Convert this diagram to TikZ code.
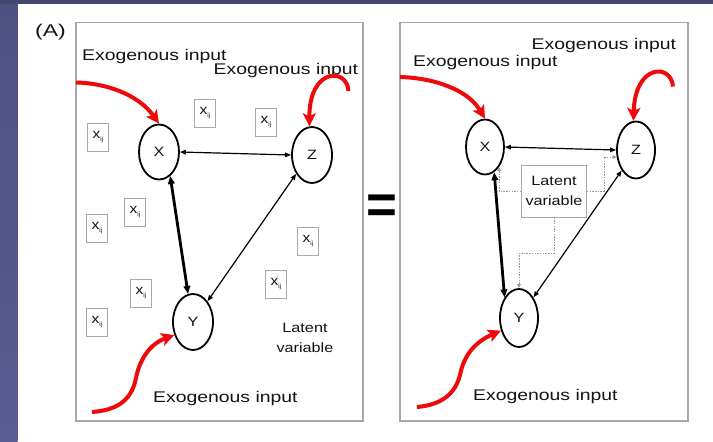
\documentclass[tikz,border=0pt]{standalone}
\usepackage{fontspec}
\usepackage{graphicx}
\setmainfont{Liberation Sans}
\usetikzlibrary{shapes.geometric,arrows.meta}

\definecolor{stripleft}{HTML}{4E5082}
\definecolor{stripleftlow}{HTML}{5A5C93}
\definecolor{striptop}{HTML}{45466F}
\definecolor{frame}{HTML}{A8A8A8}
\definecolor{exored}{HTML}{EE0A0A}
\definecolor{ink}{HTML}{141414}

% horizontally widened text
\newcommand\widetxt[2][1.25]{\scalebox{#1}[1]{#2}}
\newcommand\xij{\widetxt[1.15]{x}\raisebox{-3pt}{\fontsize{6.5}{7}\selectfont ij}}

\tikzset{
  panel/.style={draw=frame, line width=1.3pt},
  exotext/.style={anchor=base west, inner sep=0, text=ink,
    font=\fontsize{15.5}{18}\selectfont},
  lattext/.style={align=center, inner sep=0, text=ink,
    font=\fontsize{13.5}{20}\selectfont},
  var/.style={ellipse, draw=black, line width=1.8pt, inner sep=0,
    minimum width=40pt, minimum height=55pt, text=ink,
    font=\fontsize{13.5}{16}\selectfont},
  xbox/.style={draw=frame, line width=0.8pt, minimum width=21pt,
    minimum height=28pt, inner sep=0, text=ink,
    font=\fontsize{13.5}{16}\selectfont},
  exo/.style={draw=exored, line width=4pt,
    -{Stealth[length=13pt,width=13pt,inset=3pt]}},
  link/.style={draw=black, line width=1.2pt,
    {Triangle[length=6pt,width=4.5pt]}-{Triangle[length=6pt,width=4.5pt]}},
  strong/.style={draw=black, line width=2.8pt,
    {Triangle[length=8pt,width=6.5pt]}-{Triangle[length=8pt,width=6.5pt]}},
  dotlink/.style={draw=gray!80, line width=0.7pt, dash pattern=on 1.5pt off 1.2pt,
    -{Triangle[length=4pt,width=3.5pt]}},
}

\begin{document}
\begin{tikzpicture}[x=1pt,y=-1pt]
\useasboundingbox (0,0) rectangle (713,442);
% slide background
\fill[white] (0,0) rectangle (713,442);
\shade[top color=stripleft, bottom color=stripleftlow] (0,0) rectangle (17.5,442);
\fill[striptop] (0,0) rectangle (713,3.5);

\node[anchor=base west, inner sep=0, text=ink, font=\fontsize{17}{20}\selectfont]
  (tag) at (35,36.5) {\widetxt[1.35]{(A)}};

% ---------- left panel: observed variables ----------
\draw[panel] (76,22.5) rectangle (363,421);

\node[exotext] (exoA1) at (82,60) {\widetxt{Exogenous input}};
\node[exotext] (exoA2) at (213.5,74) {\widetxt{Exogenous input}};
\node[exotext] (exoA3) at (153,402.5) {\widetxt{Exogenous input}};

\node[var] (X) at (159,152) {\widetxt[1.2]{X}};
\node[var, minimum height=56pt] (Z) at (312,155) {\widetxt[1.2]{Z}};
\node[var, minimum height=56pt] (Y) at (193,322) {\widetxt[1.2]{Y}};

\node[xbox] (x1) at (98,137) {\xij};
\node[xbox] (x2) at (205,113) {\xij};
\node[xbox] (x3) at (266,122) {\xij};
\node[xbox] (x4) at (135,212) {\xij};
\node[xbox] (x5) at (97,228) {\xij};
\node[xbox] (x6) at (308,241) {\xij};
\node[xbox] (x7) at (276,284) {\xij};
\node[xbox] (x8) at (141,293) {\xij};
\node[xbox] (x9) at (97,322) {\xij};

\node[lattext] (latA) at (305,337.5) {\widetxt[1.2]{Latent}\\\widetxt[1.2]{variable}};

\draw[link] (X.east) -- (Z.west);
\draw[strong] (X.295) -- (Y.100);
\draw[link] (Z.230) -- (Y.55);

\coordinate (sA1) at (76,82.5);
\coordinate (sA2) at (348.5,91);
\coordinate (sA3) at (92,412);
\draw[exo] (sA1) .. controls (105,83) and (138,94) .. (X.north);
\draw[exo] (sA2) .. controls (347,67) and (309,68) .. (Z.95);
\draw[exo] (sA3) .. controls (120,410) and (132,398) .. (136,378)
                 .. controls (140,357) and (152,343) .. (Y.215);

% equals sign between the panels
\node[inner sep=0, text=black, font=\fontsize{44}{44}\selectfont\bfseries]
  (eq) at (382,209) {\scalebox{1.2}[1.25]{=}};

% ---------- right panel: single latent variable ----------
\draw[panel] (400,22.5) rectangle (688,421);

\node[exotext] (exoB1) at (531.5,49.5) {\widetxt{Exogenous input}};
\node[exotext] (exoB2) at (413,66) {\widetxt{Exogenous input}};
\node[exotext] (exoB3) at (473,400) {\widetxt{Exogenous input}};

\node[var, minimum width=38pt] (X2) at (485,147) {\widetxt[1.2]{X}};
\node[var, minimum width=38pt, minimum height=57pt] (Z2) at (636,150) {\widetxt[1.2]{Z}};
\node[var, minimum width=38pt, minimum height=58pt] (Y2) at (519,318) {\widetxt[1.2]{Y}};

\node[draw=frame, line width=0.8pt, minimum width=65pt, minimum height=52pt,
  inner sep=0, lattext] (LV) at (554,191)
  {\widetxt[1.2]{Latent}\\\widetxt[1.2]{variable}};

\draw[link] (X2.east) -- (Z2.west);
\draw[strong] (X2.290) -- (Y2.125);
\draw[link] (Z2.235) -- (Y2.55);

\draw[dotlink] (LV.west) -| (X2.305);
\draw[dotlink] (LV.east) -- ++(17,0) |- (Z2.200);
\draw[dotlink] (LV.south) -- ++(0,36) -| (Y2.north);

\coordinate (sB1) at (400,77);
\coordinate (sB2) at (673,86.5);
\coordinate (sB3) at (417,407);
\draw[exo] (sB1) .. controls (435,78) and (468,90) .. (X2.north);
\draw[exo] (sB2) .. controls (671,63) and (635,64) .. (Z2.95);
\draw[exo] (sB3) .. controls (440,405) and (455,395) .. (460,375)
                 .. controls (464,355) and (475,342) .. (Y2.215);
\end{tikzpicture}
\end{document}
